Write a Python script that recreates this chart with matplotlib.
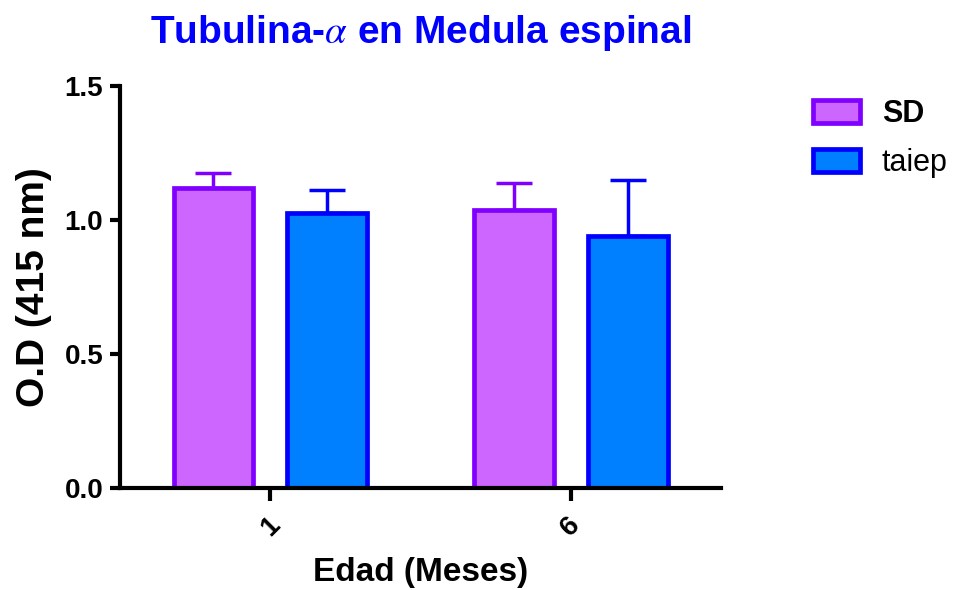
import numpy as np
import matplotlib.pyplot as plt
from matplotlib.patches import Patch

plt.rcParams['font.family'] = ['Liberation Sans', 'DejaVu Sans']
plt.rcParams['mathtext.fontset'] = 'stix'

# ================ datos ================
GROUPS = ['1', '6']
SD_MEAN = [1.12, 1.037]
SD_ERR = [0.055, 0.10]
TAIEP_MEAN = [1.026, 0.941]
TAIEP_ERR = [0.087, 0.21]

# ================ estilos ================
SD_FACE, SD_EDGE = '#CC66FF', '#8000FF'
TAIEP_FACE, TAIEP_EDGE = '#0080FF', '#0000FF'
WIDTH = 0.265
OFFSET = 0.189

fig = plt.figure(figsize=(9.56, 5.9), dpi=100)
ax = fig.add_axes([0.1255, 0.1729, 0.6290, 0.6813])

x = np.arange(len(GROUPS))
series = [
    (x - OFFSET, SD_MEAN, SD_ERR, SD_FACE, SD_EDGE),
    (x + OFFSET, TAIEP_MEAN, TAIEP_ERR, TAIEP_FACE, TAIEP_EDGE),
]
for pos, mean, err, face, edge in series:
    # solo la barra de error superior
    ax.errorbar(pos, mean, yerr=[np.zeros(len(err)), err], fmt='none',
                ecolor=edge, elinewidth=2.5, capsize=13, capthick=2.5, zorder=1)
    ax.bar(pos, mean, width=WIDTH, color=face, edgecolor=edge,
           linewidth=3.4, zorder=2)

ax.set_xlim(-0.5, 1.5)
ax.set_ylim(0, 1.5)
ax.set_yticks([0.0, 0.5, 1.0, 1.5])
ax.set_yticklabels(['0.0', '0.5', '1.0', '1.5'])
ax.set_xticks(x)
ax.set_xticklabels(GROUPS, rotation=45, ha='center', va='center')

for side in ['top', 'right']:
    ax.spines[side].set_visible(False)
for side in ['left', 'bottom']:
    ax.spines[side].set_linewidth(3)
ax.tick_params(axis='y', length=7, width=3, labelsize=20, pad=5)
ax.tick_params(axis='x', length=9, width=3, labelsize=20, pad=19)
for lab in ax.get_xticklabels() + ax.get_yticklabels():
    lab.set_fontweight('bold')

ax.set_title(r'Tubulina-$\alpha$ en Medula espinal', color='#0000FF',
             fontsize=28, fontweight='bold', pad=31)
ax.set_ylabel('O.D (415 nm)', fontsize=28, fontweight='bold', labelpad=9)
ax.set_xlabel('Edad (Meses)', fontsize=24, fontweight='bold', labelpad=11)

handles = [
    Patch(facecolor=SD_FACE, edgecolor=SD_EDGE, linewidth=3.4, label='SD'),
    Patch(facecolor=TAIEP_FACE, edgecolor=TAIEP_EDGE, linewidth=3.4, label='taiep'),
]
leg = fig.legend(handles=handles, loc='upper left', bbox_to_anchor=(0.8505, 0.8316),
                 frameon=False, fontsize=22, handlelength=1.55, handleheight=0.8,
                 labelspacing=0.62, handletextpad=0.7, borderaxespad=0,
                 borderpad=0)
leg.get_texts()[0].set_fontweight('bold')

fig.savefig('out.png', dpi=100)
